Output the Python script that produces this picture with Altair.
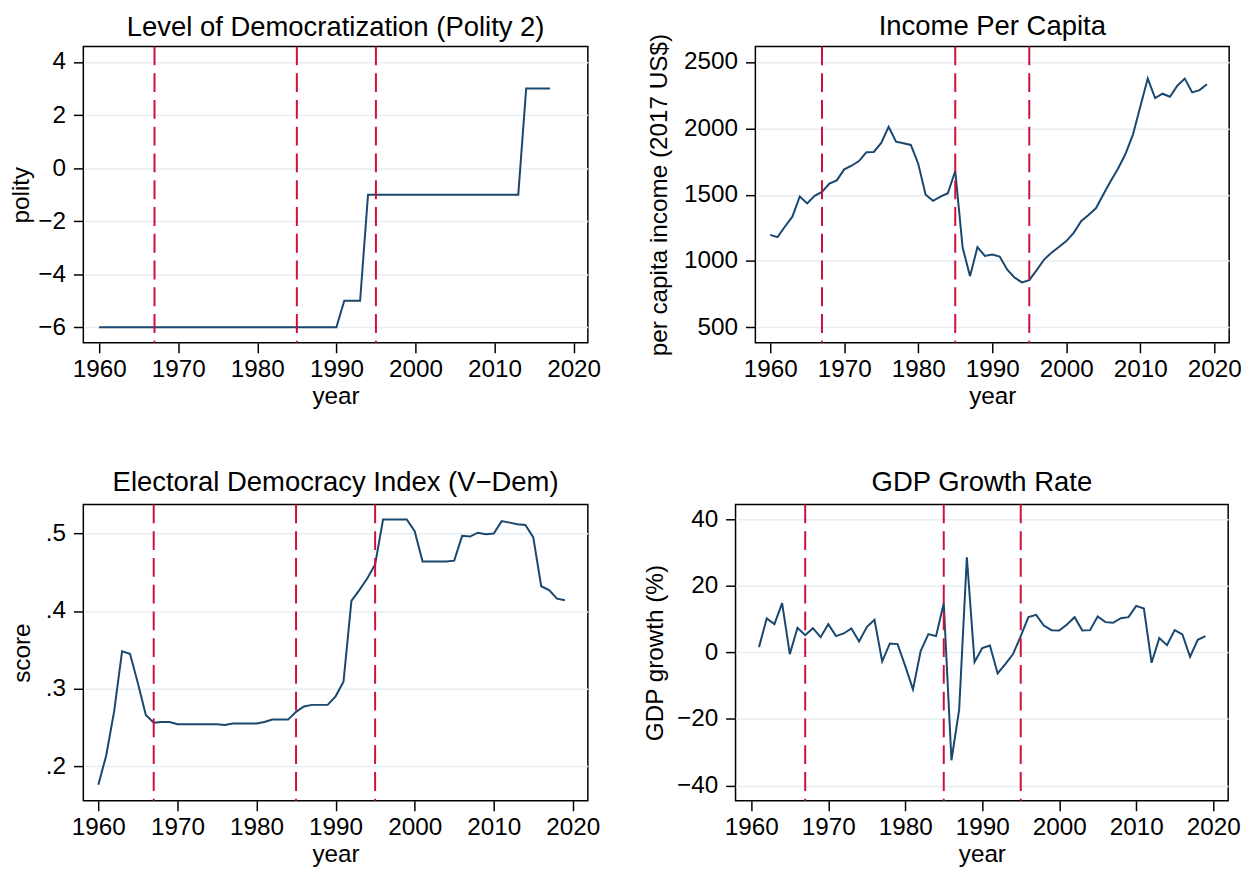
import altair as alt
import pandas as pd

FONT = "Liberation Sans"
NAVY = "#1a476f"
RED = "#d0103a"
GRID = "#e6eef2"

# ---------------- data ----------------
polity_years = list(range(1960, 2018))
polity = [-6, -6, -6, -6, -6, -6, -6, -6, -6, -6,
          -6, -6, -6, -6, -6, -6, -6, -6, -6, -6,
          -6, -6, -6, -6, -6, -6, -6, -6, -6, -6,
          -6, -5, -5, -5, -1, -1, -1, -1, -1, -1,
          -1, -1, -1, -1, -1, -1, -1, -1, -1, -1,
          -1, -1, -1, -1, 3, 3, 3, 3]

income_years = list(range(1960, 2020))
income = [1197, 1180, 1260, 1334, 1486, 1434, 1491, 1521, 1583, 1608,
          1691, 1718, 1753, 1820, 1822, 1890, 2012, 1900, 1887, 1875,
          1733, 1499, 1454, 1486, 1511, 1678, 1100, 886, 1105, 1038,
          1048, 1033, 936, 876, 839, 856, 931, 1011, 1063, 1105,
          1150, 1212, 1300, 1347, 1397, 1501, 1603, 1698, 1808, 1952,
          2164, 2375, 2228, 2261, 2238, 2321, 2375, 2271, 2288, 2333]

vdem_years = list(range(1960, 2020))
vdem = [.176, .214, .271, .348, .345, .307, .266, .256, .257, .257,
        .254, .254, .254, .254, .254, .254, .253, .255, .255, .255,
        .255, .257, .260, .260, .260, .270, .277, .279, .279, .279,
        .290, .309, .413, .427, .442, .460, .518, .518, .518, .518,
        .503, .464, .464, .464, .464, .465, .497, .496, .501, .499,
        .500, .516, .514, .512, .511, .495, .432, .427, .416, .414]

gdp_years = list(range(1961, 2020))
gdp = [1.6, 10.2, 8.5, 14.8, -0.5, 7.4, 5.2, 7.3, 4.6,
       8.5, 4.9, 5.7, 7.2, 3.3, 7.6, 9.8, -2.7, 2.7, 2.5,
       -4.1, -11.1, 0.4, 5.5, 4.9, 14.8, -32.4, -17.2, 28.6, -2.9,
       1.3, 2.1, -6.3, -3.5, -0.5, 4.9, 10.6, 11.3, 8.1, 6.7,
       6.6, 8.4, 10.6, 6.6, 6.7, 10.8, 9.1, 8.9, 10.3, 10.6,
       14.0, 13.2, -3.1, 4.3, 2.2, 6.7, 5.4, -1.3, 3.8, 4.9]

break_years = [1967, 1985, 1995]
x_ticks = [1960, 1970, 1980, 1990, 2000, 2010, 2020]

polity_ticks = [-6, -4, -2, 0, 2, 4]
income_ticks = [500, 1000, 1500, 2000, 2500]
vdem_ticks = [0.2, 0.3, 0.4, 0.5]
gdp_ticks = [-40, -20, 0, 20, 40]

breaks_df = pd.DataFrame({"year": break_years})


def panel(years, values, title, ytitle, xdom, ydom, yticks, w, h,
          title_pad, title_offset=7, label_expr=None, fmt="d"):
    df = pd.DataFrame({"year": years, "v": values})
    yaxis_kw = dict(values=yticks, title=ytitle, titlePadding=title_pad)
    if label_expr:
        yaxis_kw["labelExpr"] = label_expr
    else:
        yaxis_kw["format"] = fmt
    line = alt.Chart(df).mark_line(color=NAVY, strokeWidth=2).encode(
        x=alt.X("year:Q",
                scale=alt.Scale(domain=xdom, nice=False, zero=False),
                axis=alt.Axis(values=x_ticks, format="d", title="year")),
        y=alt.Y("v:Q",
                scale=alt.Scale(domain=ydom, nice=False, zero=False),
                axis=alt.Axis(**yaxis_kw)),
    )
    rules = alt.Chart(breaks_df).mark_rule(
        color=RED, strokeWidth=2, strokeDash=[19, 8]
    ).encode(x=alt.X("year:Q"))
    return alt.layer(line, rules).properties(
        width=w, height=h,
        title=alt.TitleParams(title, anchor="middle", offset=title_offset),
    )


p1 = panel(polity_years, polity, "Level of Democratization (Polity 2)", "polity",
           [1958.0, 2021.8], [-6.585, 4.585], polity_ticks, 509, 299, 4,
           title_offset=4)
p2 = panel(income_years, income, "Income Per Capita", "per capita income (2017 US$)",
           [1958.0, 2022.0], [383, 2617], income_ticks, 478, 299, 12.5,
           title_offset=-7.5)
p3 = panel(vdem_years, vdem, "Electoral Democracy Index (V\u2212Dem)", "score",
           [1958.1, 2021.9], [0.1553, 0.5375], vdem_ticks, 509, 299, 11,
           label_expr="replace(format(datum.value, '.1f'), '0.', '.')")
p4 = panel(gdp_years, gdp, "GDP Growth Rate", "GDP growth (%)",
           [1957.95, 2021.95], [-44.58, 44.48], gdp_ticks, 497, 299, 9.5)

top = alt.hconcat(p1, p2, spacing=169, bounds="flush")
bottom = alt.hconcat(p3, p4, spacing=149, bounds="flush")

chart = alt.vconcat(top, bottom, spacing=59).properties(
    padding={"left": 0, "top": 0, "right": 5, "bottom": 0},
    background="white",
).configure_view(
    stroke="black", strokeWidth=1.5
).configure_axis(
    labelFont=FONT, titleFont=FONT, labelFontSize=24.5, titleFontSize=24.5,
    titleFontWeight="normal", labelColor="black", titleColor="black",
    tickColor="black", tickSize=10, tickWidth=1.5, domain=False,
    gridColor=GRID, gridWidth=1.5,
).configure_axisX(
    grid=False, labelPadding=5, titlePadding=4, labelFlush=False,
).configure_axisY(
    grid=True, labelPadding=8,
).configure_title(
    font=FONT, fontSize=27.7, fontWeight="normal", color="black",
)

chart.save("out.html", embed_options={"renderer": "svg", "actions": False})
